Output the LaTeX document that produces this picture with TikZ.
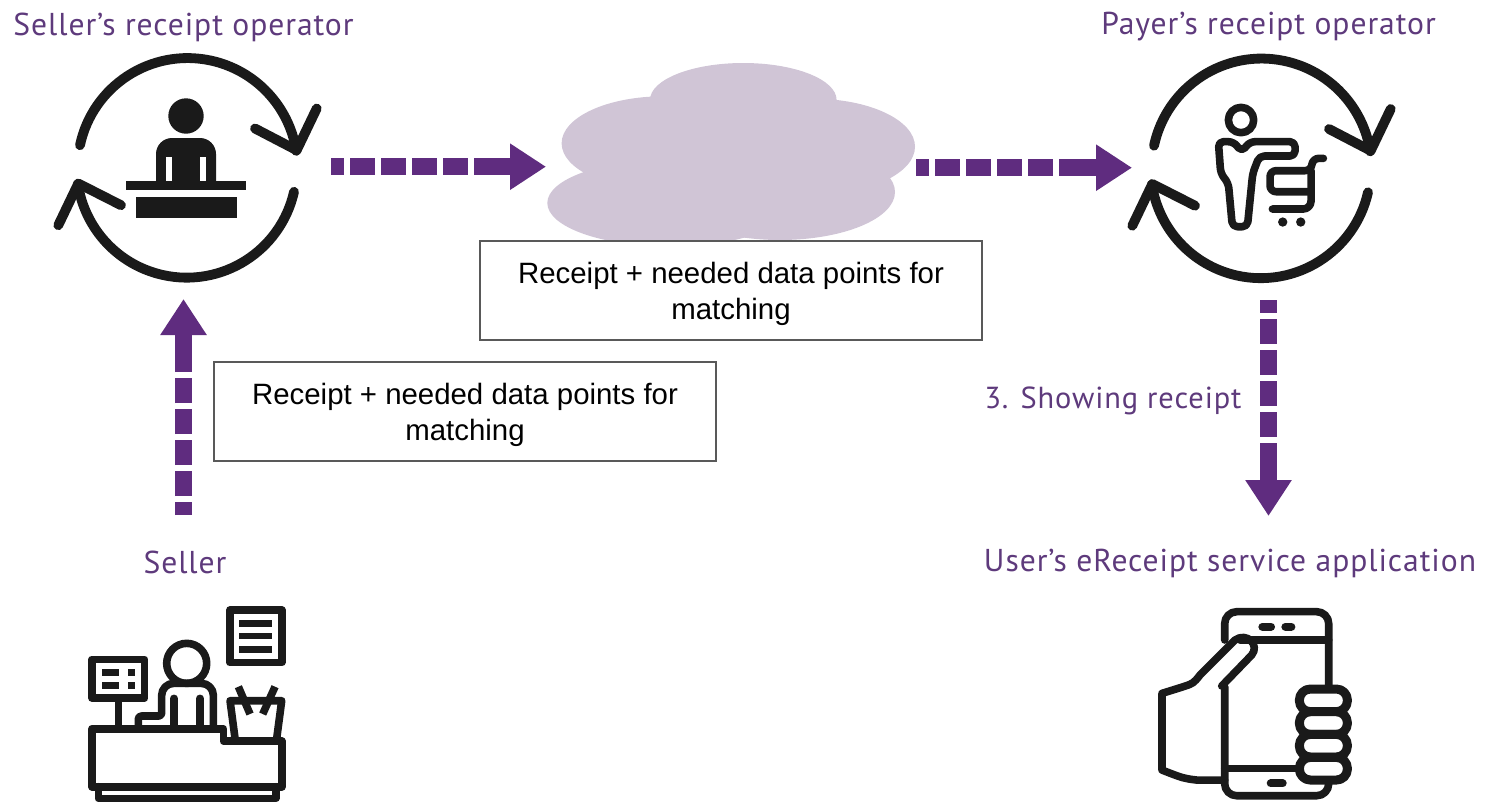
\documentclass[tikz,border=0pt]{standalone}
\usepackage{fontspec}
\setmainfont{Liberation Sans}
\newfontfamily\labelfont[LetterSpace=3]{PT Sans}
\usetikzlibrary{arrows.meta}
\definecolor{flowpurple}{HTML}{5F2C7F}
\definecolor{labelpurple}{HTML}{5E3A7C}
\definecolor{cloudgrey}{HTML}{D0C5D6}
\definecolor{iconblack}{HTML}{1A1A1A}
\definecolor{boxgrey}{HTML}{595959}
\newcommand{\cycling}[2]{
  \begin{scope}[shift={(#1,#2)},line width=4.9pt,draw=iconblack,line cap=round,line join=round]
    \draw (-106,-22.3) arc[start angle=192,end angle=351,radius=110];
    \draw (130.7,-59) -- (110.7,-17.3) -- (69,-39);
    \draw (108,24.3) arc[start angle=12.7,end angle=171.5,radius=110];
    \draw (-127.7,57.7) -- (-107.7,16) -- (-65,37.7);
  \end{scope}
}
\newcommand{\boxtext}{\rule{0pt}{13.7pt}Receipt + needed data points for\\matching}
\tikzset{
  flow/.style={draw=flowpurple,line width=8.75pt,
    dash pattern=on 6.5pt off 3pt on 12.5pt off 3pt on 12.5pt off 3pt on 12.5pt off 3pt on 12.5pt off 3pt on 40pt,
    -{Triangle[length=18pt,width=22pt,fill=flowpurple]}},
  databox/.style={draw=boxgrey,fill=white,line width=0.7pt,minimum width=251pt,minimum height=49.5pt,
    align=center,font=\fontsize{14.7}{18}\selectfont},
  lab/.style={text=labelpurple,font=\labelfont\fontsize{15.8}{18}\selectfont,inner sep=0pt},
  icon/.style={draw=iconblack,line width=3.8pt,line cap=round,line join=round},
  iconfill/.style={fill=iconblack}
}
\begin{document}
\begin{tikzpicture}[x=0.5pt,y=-0.5pt]
  \useasboundingbox (0,0) rectangle (1486,804);
  % cloud
  \fill[cloudgrey] (743.3,100) ellipse [x radius=93.3,y radius=37];
  \fill[cloudgrey] (663.3,143.3) ellipse [x radius=101.7,y radius=47];
  \fill[cloudgrey] (813.3,146.7) ellipse [x radius=101.7,y radius=48];
  \fill[cloudgrey] (670,203) ellipse [x radius=122.7,y radius=43.5];
  \fill[cloudgrey] (780,192) ellipse [x radius=115,y radius=48];
  % boxes
  \node[databox] (cloudbox) at (731,290.5) {\boxtext};
  \node[databox] (sellerbox) at (465,411.5) {\boxtext};
  % labels
  \node[lab] (sellerop) at (183.5,27) {Seller’s receipt operator};
  \node[lab] (payerop) at (1268.5,27) {Payer’s receipt operator};
  \node[lab] (seller) at (185,562) {Seller};
  \node[lab] (userapp) at (1230,563) {User’s eReceipt service application};
  \node[lab,font=\labelfont\fontsize{15.2}{18}\selectfont] (showing) at (1113,401) {3. Showing receipt};
  % connectors
  \coordinate (selleropout) at (331,166.7);
  \coordinate (cloudin) at (546,166.7);
  \coordinate (cloudout) at (916,167.7);
  \coordinate (payeropin) at (1132,167.7);
  \coordinate (sellerout) at (183.5,515);
  \coordinate (selleropin) at (183.5,299);
  \coordinate (payeropout) at (1268.5,300);
  \coordinate (userappin) at (1268.5,516);
  \draw[flow] (selleropout) -- (cloudin);
  \draw[flow] (cloudout) -- (payeropin);
  \draw[flow] (sellerout) -- (selleropin);
  \draw[flow] (payeropout) -- (userappin);
  % operators
  \cycling{186}{167.5}
  \cycling{1260}{168}
  \fill[iconfill] (186,116) circle [radius=17.7];
  \fill[iconfill] (156,182) [rounded corners=8pt] -- (156,138) -- (216,138) [sharp corners] -- (216,182) -- cycle;
  \fill[white] (166,157) rectangle (172,181);
  \fill[white] (200,157) rectangle (206,181);
  \fill[iconfill] (126.3,181.3) rectangle (245.7,190);
  \fill[iconfill] (136.3,196.7) rectangle (237,217.7);
  % shopper
  \begin{scope}[shift={(1110,40)},x=0.1667pt,y=-0.1667pt]
    \draw[icon] (393,240) circle [radius=38];
    \draw[icon,rounded corners=2.5pt] (420,305) -- (555,305) -- (555,348) -- (448,348) -- (428,400) -- (412,560) -- (367,560) -- (355,430) -- (332,400) -- (325,305) -- (370,305) -- (395,335) -- cycle;
    \draw[icon,rounded corners=3pt] (640,355) -- (608,355) -- (603,392) -- (480,392) -- (480,455) -- (603,455);
    \draw[icon,rounded corners=4pt] (603,392) -- (603,507) -- (487,507);
    \fill[iconfill] (518,546) circle [radius=14];
    \fill[iconfill] (572,546) circle [radius=14];
  \end{scope}
  % seller
  \begin{scope}[shift={(70,590)},x=0.1667pt,y=-0.1667pt]
    \draw[icon] (480,60) rectangle (635,218);
    \fill[iconfill] (507,90) rectangle (607,110);
    \fill[iconfill] (507,128) rectangle (607,148);
    \fill[iconfill] (507,168) rectangle (607,188);
    \draw[icon] (66,208) rectangle (224,324);
    \fill[iconfill] (95,237) rectangle (147,257);
    \fill[iconfill] (175,237) rectangle (195,257);
    \fill[iconfill] (95,277) rectangle (147,297);
    \fill[iconfill] (175,277) rectangle (195,297);
    \draw[icon] (146,335) -- (146,410);
    \draw[icon] (350,220) circle [radius=60];
    \draw[icon] (205,412) [rounded corners=1.5pt] -- (205,378) -- (275,378) [rounded corners=6pt] -- (275,280) -- (430,280) -- (430,412);
    \draw[icon] (312,325) -- (312,410);
    \draw[icon] (390,325) -- (390,410);
    \draw[icon] (66,416) -- (460,416) -- (460,453) -- (635,453) -- (635,590) -- (66,590) -- cycle;
    \draw[icon] (85,590) -- (85,625) -- (617,625) -- (617,590);
    \draw[icon] (495,445) -- (480,332) -- (635,332) -- (620,445);
    \draw[icon,line cap=butt] (505,290) -- (540,372);
    \draw[icon,line cap=butt] (615,290) -- (578,372);
  \end{scope}
  % phone
  \begin{scope}[shift={(1140,590)},x=0.1667pt,y=-0.1667pt]
    \draw[icon,rounded corners=6pt] (254,150) -- (254,65) -- (566,65) -- (566,290);
    \draw[icon,rounded corners=6pt] (254,290) -- (254,617) -- (566,617) -- (566,570);
    \draw[icon] (300,150) -- (566,150);
    \draw[icon] (254,535) -- (480,535);
    \draw[icon,line width=4pt] (367,110) -- (393,110);
    \draw[icon,line width=4pt] (436,110) -- (454,110);
    \draw[icon,line width=4pt] (392,580) -- (428,580);
    \draw[icon] (254,570) -- (170,570) .. controls (130,565) .. (66,540) -- (66,310) -- (130,290) .. controls (160,280) .. (180,255) -- (285,150) .. controls (320,125) and (360,165) .. (335,195) -- (245,288);
    \foreach \fy in {297,365,433,502} {
      \draw[icon,line width=4.5pt,fill=white,rounded corners=5.5pt] (478,\fy) rectangle (622,\fy+68);
    }
  \end{scope}
\end{tikzpicture}
\end{document}
